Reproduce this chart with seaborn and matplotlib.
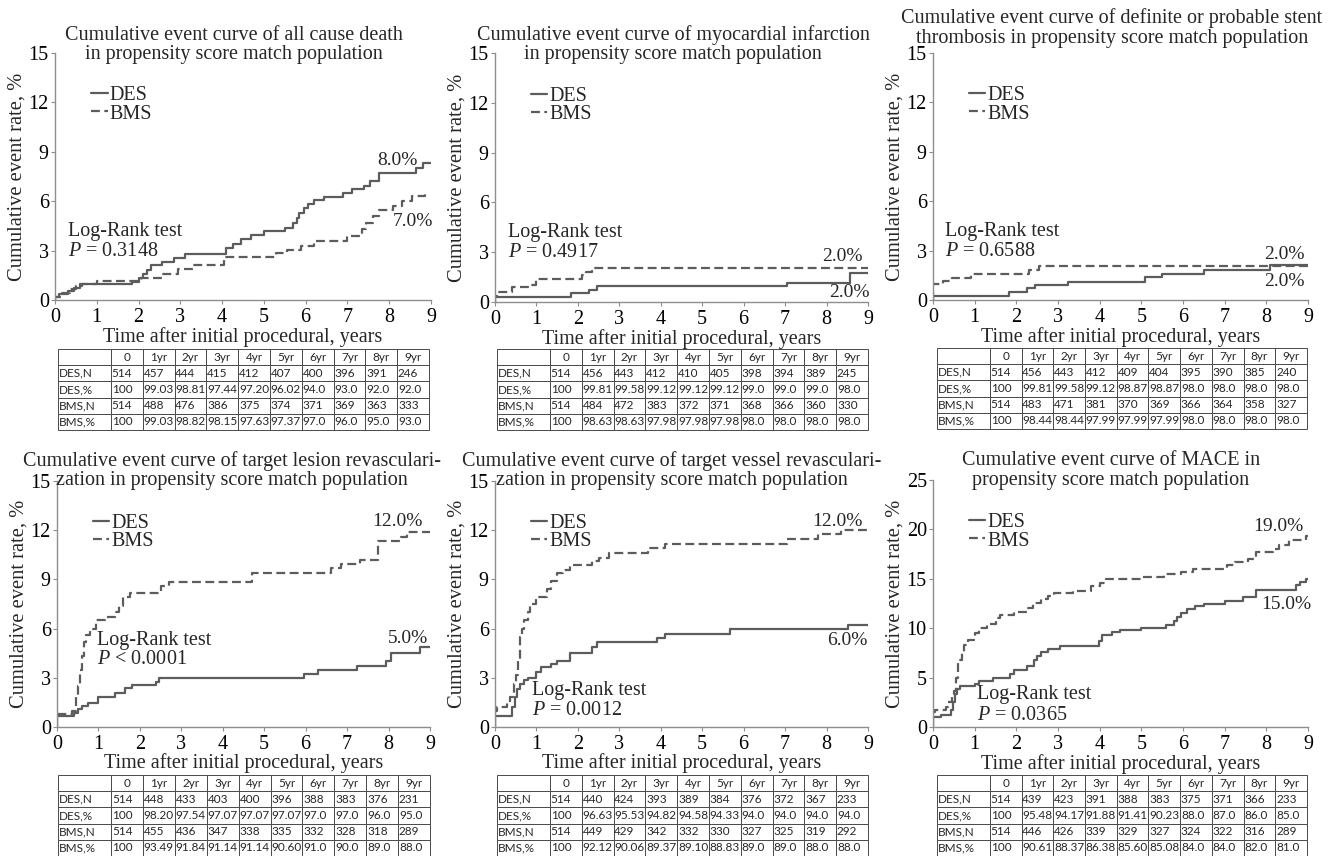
import numpy as np
import pandas as pd
import matplotlib
matplotlib.use('Agg')
import matplotlib.pyplot as plt
import seaborn as sns

# ---------- data: step curves (years, cumulative %) ----------
death_des_t = [0, 0, 0.1, 0.3, 0.45, 0.6, 1.85, 2.0, 2.1, 2.2, 2.3, 2.55, 2.85, 3.1, 4.1, 4.25, 4.45,
               4.7, 5.0, 5.5, 5.7, 5.8, 5.85, 5.95, 6.05, 6.2, 6.45, 6.9, 7.1, 7.4, 7.55, 7.75, 8.65, 8.8, 9.0]
death_des_y = [0, 0.2, 0.35, 0.55, 0.75, 0.95, 1.1, 1.35, 1.6, 1.85, 2.1, 2.3, 2.55, 2.8, 3.15, 3.4, 3.7,
               3.95, 4.2, 4.4, 4.7, 5.0, 5.3, 5.6, 5.85, 6.05, 6.25, 6.5, 6.75, 6.95, 7.2, 7.7, 8.0, 8.3, 8.3]
death_bms_t = [0, 0, 0.15, 0.35, 0.5, 0.65, 1.0, 2.05, 2.55, 2.95, 3.3, 4.05, 5.3, 5.55, 5.9, 6.2, 7.0,
               7.35, 7.45, 7.6, 7.75, 8.1, 8.3, 8.55, 8.85, 8.9]
death_bms_y = [0, 0.2, 0.45, 0.65, 0.85, 0.95, 1.15, 1.35, 1.6, 1.9, 2.1, 2.6, 2.85, 3.05, 3.25, 3.6, 3.9,
               4.3, 4.7, 5.1, 5.45, 5.7, 6.0, 6.3, 6.5, 6.5]

mi_des_t = [0, 0, 1.83, 2.27, 2.45, 7.05, 8.57, 9.0]
mi_des_y = [0, 0.3, 0.55, 0.75, 0.95, 1.15, 1.75, 1.75]
mi_bms_t = [0, 0, 0.05, 0.4, 0.85, 1.0, 2.1, 2.2, 2.35, 9.0]
mi_bms_y = [0, 0.35, 0.6, 0.9, 1.05, 1.4, 1.6, 1.8, 2.05, 2.05]

st_des_t = [0, 0, 1.82, 2.25, 2.45, 3.25, 5.1, 5.5, 6.5, 8.1, 9.0]
st_des_y = [0, 0.25, 0.5, 0.7, 0.9, 1.1, 1.4, 1.6, 1.85, 2.1, 2.1]
st_bms_t = [0, 0, 0.25, 0.45, 0.9, 2.3, 2.55, 9.0]
st_bms_y = [0, 0.95, 1.15, 1.35, 1.55, 1.8, 2.05, 2.05]

tlr_des_t = [0, 0, 0.4, 0.5, 0.6, 0.75, 1.0, 1.4, 1.63, 1.8, 2.4, 2.47, 5.95, 6.3, 7.25, 7.95, 8.07, 8.77, 9.0]
tlr_des_y = [0, 0.65, 0.85, 1.1, 1.3, 1.45, 1.85, 2.1, 2.35, 2.55, 2.75, 3.0, 3.25, 3.45, 3.75, 4.0, 4.5, 4.85, 4.85]
tlr_bms_t = [0, 0, 0.35, 0.45, 0.5, 0.55, 0.6, 0.65, 0.7, 0.8, 0.95, 1.15, 1.4, 1.5, 1.6, 1.75, 2.5, 2.7,
             4.7, 6.6, 6.85, 7.3, 7.75, 8.3, 8.45, 9.0]
tlr_bms_y = [0, 0.8, 1.0, 1.8, 2.5, 3.5, 4.3, 5.2, 5.6, 6.0, 6.5, 6.7, 7.0, 7.4, 7.9, 8.2, 8.6, 8.85,
             9.4, 9.7, 9.95, 10.2, 11.35, 11.6, 11.9, 11.9]

tvr_des_t = [0, 0, 0.42, 0.48, 0.53, 0.6, 0.7, 0.8, 1.0, 1.1, 1.35, 1.5, 1.8, 2.35, 2.45, 3.92, 4.1, 5.67, 8.52, 9.0]
tvr_des_y = [0, 0.65, 1.2, 1.8, 2.3, 2.6, 2.85, 3.0, 3.35, 3.65, 3.85, 4.05, 4.5, 4.85, 5.2, 5.45, 5.7, 5.95, 6.25, 6.25]
tvr_bms_t = [0, 0, 0.05, 0.3, 0.35, 0.45, 0.5, 0.55, 0.6, 0.65, 0.7, 0.8, 0.85, 1.0, 1.25, 1.35, 1.5, 1.65,
             1.8, 2.35, 2.5, 2.75, 3.7, 4.1, 7.05, 7.8, 8.35, 9.0]
tvr_bms_y = [0, 0.95, 1.2, 1.5, 1.85, 2.6, 3.2, 4.0, 5.5, 6.0, 6.5, 7.0, 7.5, 7.9, 8.4, 8.9, 9.4, 9.6,
             9.9, 10.1, 10.3, 10.6, 10.9, 11.15, 11.45, 11.75, 12.0, 12.0]

mace_des_t = [0, 0, 0.2, 0.42, 0.47, 0.52, 0.57, 0.65, 1.0, 1.1, 1.45, 1.85, 1.95, 2.25, 2.42, 2.5, 2.6, 2.75,
              3.05, 3.98, 4.05, 4.3, 4.5, 5.0, 5.6, 5.78, 5.85, 5.95, 6.1, 6.3, 6.5, 7.0, 7.45, 7.75, 8.72,
              8.82, 8.95, 9.0]
mace_des_y = [0, 1.0, 1.2, 1.7, 2.5, 3.3, 3.8, 4.1, 4.4, 4.7, 5.0, 5.4, 5.8, 6.2, 6.8, 7.2, 7.6, 7.9,
              8.2, 8.7, 9.3, 9.6, 9.8, 10.0, 10.3, 10.7, 11.1, 11.5, 11.9, 12.2, 12.5, 12.8, 13.2, 13.9, 14.4,
              14.7, 15.0, 15.0]
mace_bms_t = [0, 0, 0.05, 0.3, 0.35, 0.45, 0.5, 0.55, 0.6, 0.7, 0.75, 0.85, 1.0, 1.1, 1.3, 1.5, 1.6, 1.95,
              2.25, 2.4, 2.6, 2.75, 2.9, 3.35, 3.8, 4.0, 4.15, 5.05, 5.55, 5.95, 6.25, 7.05, 7.25, 7.55,
              7.75, 8.15, 8.3, 8.55, 8.95, 9.0]
mace_bms_y = [0, 1.5, 1.7, 2.0, 2.5, 3.3, 3.6, 5.0, 6.8, 7.5, 8.3, 8.8, 9.5, 10.0, 10.4, 11.0, 11.3, 11.6,
              12.0, 12.6, 13.0, 13.3, 13.6, 13.8, 14.3, 14.6, 15.0, 15.2, 15.5, 15.7, 16.0, 16.4, 16.7, 17.0,
              17.7, 18.0, 18.4, 18.9, 19.3, 19.3]

# ---------- numbers at risk tables ----------
year_cols = ['', '0', '1yr', '2yr', '3yr', '4yr', '5yr', '6yr', '7yr', '8yr', '9yr']
row_labels = ['DES,N', 'DES,%', 'BMS,N', 'BMS,%']

death_rows = [['514', '457', '444', '415', '412', '407', '400', '396', '391', '246'],
              ['100', '99.03', '98.81', '97.44', '97.20', '96.02', '94.0', '93.0', '92.0', '92.0'],
              ['514', '488', '476', '386', '375', '374', '371', '369', '363', '333'],
              ['100', '99.03', '98.82', '98.15', '97.63', '97.37', '97.0', '96.0', '95.0', '93.0']]
mi_rows = [['514', '456', '443', '412', '410', '405', '398', '394', '389', '245'],
           ['100', '99.81', '99.58', '99.12', '99.12', '99.12', '99.0', '99.0', '99.0', '98.0'],
           ['514', '484', '472', '383', '372', '371', '368', '366', '360', '330'],
           ['100', '98.63', '98.63', '97.98', '97.98', '97.98', '98.0', '98.0', '98.0', '98.0']]
st_rows = [['514', '456', '443', '412', '409', '404', '395', '390', '385', '240'],
           ['100', '99.81', '99.58', '99.12', '98.87', '98.87', '98.0', '98.0', '98.0', '98.0'],
           ['514', '483', '471', '381', '370', '369', '366', '364', '358', '327'],
           ['100', '98.44', '98.44', '97.99', '97.99', '97.99', '98.0', '98.0', '98.0', '98.0']]
tlr_rows = [['514', '448', '433', '403', '400', '396', '388', '383', '376', '231'],
            ['100', '98.20', '97.54', '97.07', '97.07', '97.07', '97.0', '97.0', '96.0', '95.0'],
            ['514', '455', '436', '347', '338', '335', '332', '328', '318', '289'],
            ['100', '93.49', '91.84', '91.14', '91.14', '90.60', '91.0', '90.0', '89.0', '88.0']]
tvr_rows = [['514', '440', '424', '393', '389', '384', '376', '372', '367', '233'],
            ['100', '96.63', '95.53', '94.82', '94.58', '94.33', '94.0', '94.0', '94.0', '94.0'],
            ['514', '449', '429', '342', '332', '330', '327', '325', '319', '292'],
            ['100', '92.12', '90.06', '89.37', '89.10', '88.83', '89.0', '89.0', '88.0', '88.0']]
mace_rows = [['514', '439', '423', '391', '388', '383', '375', '371', '366', '233'],
             ['100', '95.48', '94.17', '91.88', '91.41', '90.23', '88.0', '87.0', '86.0', '85.0'],
             ['514', '446', '426', '339', '329', '327', '324', '322', '316', '289'],
             ['100', '90.61', '88.37', '86.38', '85.60', '85.08', '84.0', '84.0', '82.0', '81.0']]

# ---------- style ----------
sns.set_theme(style='ticks')
plt.rcParams['font.family'] = ['Liberation Serif', 'DejaVu Serif']
plt.rcParams['mathtext.fontset'] = 'custom'
plt.rcParams['mathtext.rm'] = 'Liberation Serif'
plt.rcParams['mathtext.it'] = 'Liberation Serif:italic'

W, H = 1337, 856
line_col = '#5c5c5c'
axis_col = '#8e8e8e'
fs = 14.5

fig = plt.figure(figsize=(W / 100, H / 100), dpi=100)
fig.patch.set_facecolor('white')


def px_axes(left, top, right, bottom):
    return fig.add_axes([left / W, 1 - bottom / H, (right - left) / W, (bottom - top) / H])


def draw_curves(ax, des_t, des_y, bms_t, bms_y, ymax, ystep):
    sns.lineplot(x=des_t, y=des_y, ax=ax, estimator=None, sort=False, drawstyle='steps-post',
                 color=line_col, linewidth=1.6, label='DES')
    sns.lineplot(x=bms_t, y=bms_y, ax=ax, estimator=None, sort=False, drawstyle='steps-post',
                 color=line_col, linewidth=1.6, linestyle=(0, (4, 2)), label='BMS')
    ax.set_xlim(0, 9)
    ax.set_ylim(0, ymax)
    ax.set_xticks(range(10))
    ax.set_yticks(np.arange(0, ymax + 1, ystep))
    ax.tick_params(length=3, width=0.8, color=axis_col, labelsize=fs, pad=1.5, labelcolor='black')
    ax.tick_params(axis='x', pad=2.5)
    sns.despine(ax=ax)
    for s in ['left', 'bottom']:
        ax.spines[s].set_color(axis_col)
        ax.spines[s].set_linewidth(1.0)
    ax.set_xlabel('Time after initial procedural, years', fontsize=fs)
    ax.set_ylabel('Cumulative event rate, %', fontsize=fs + 0.3)
    ax.xaxis.set_label_coords(0.5, -0.108)
    ax.yaxis.set_label_coords(-0.075, 0.5)
    ax.legend(loc='upper left', bbox_to_anchor=(0.097, 0.865), frameon=False, fontsize=fs,
              handlelength=0.8, handletextpad=0.1, labelspacing=-0.05, borderpad=0, borderaxespad=0)


def draw_table(box, rows):
    tax = px_axes(*box)
    tax.axis('off')
    cells = [[lab] + vals for lab, vals in zip(row_labels, rows)]
    widths = [53] + [31.8] * 10
    widths = [w / sum(widths) for w in widths]
    tbl = tax.table(cellText=cells, colLabels=year_cols, colWidths=widths, bbox=[0, 0, 1, 1],
                    cellLoc='left', colLoc='center')
    tbl.auto_set_font_size(False)
    tbl.set_fontsize(8.5)
    for (r, c), cell in tbl.get_celld().items():
        cell.set_edgecolor('#4a4a4a')
        cell.set_linewidth(0.7)
        cell.PAD = 0.025
        cell.get_text().set_fontfamily('Lato')


panels = [
    dict(title=['Cumulative event curve of all cause death', 'in propensity score match population'],
         cx=234, ty=(35, 54), box=(55, 53, 431, 300), table=(58, 349, 429, 430),
         curves=(death_des_t, death_des_y, death_bms_t, death_bms_y), ymax=15, ystep=3,
         pct=[('8.0%', 8.67, 8.5), ('7.0%', 9.05, 4.75)], lr=(0.31, 4.15, 2.95), p='$P$ = 0.3148',
         rows=death_rows),
    dict(title=['Cumulative event curve of myocardial infarction', 'in propensity score match population'],
         cx=673, ty=(35, 54), box=(495, 53, 868, 302), table=(497, 349, 868, 430),
         curves=(mi_des_t, mi_des_y, mi_bms_t, mi_bms_y), ymax=15, ystep=3,
         pct=[('2.0%', 8.88, 2.72), ('2.0%', 9.05, 0.55)], lr=(0.31, 4.2, 3.0), p='$P$ = 0.4917',
         rows=mi_rows),
    dict(title=['Cumulative event curve of definite or probable stent',
                'thrombosis in propensity score match population'],
         cx=1112, ty=(18, 38), box=(933, 53, 1308, 300), table=(937, 348, 1307, 429),
         curves=(st_des_t, st_des_y, st_bms_t, st_bms_y), ymax=15, ystep=3,
         pct=[('2.0%', 8.93, 2.75), ('2.0%', 8.93, 1.1)], lr=(0.29, 4.15, 2.95), p='$P$ = 0.6588',
         rows=st_rows),
    dict(title=['Cumulative event curve of target lesion revasculari-',
                'zation in propensity score match population'],
         cx=232, ty=(461, 481), box=(57, 481, 430, 727), table=(58, 775, 430, 856),
         curves=(tlr_des_t, tlr_des_y, tlr_bms_t, tlr_bms_y), ymax=15, ystep=3,
         pct=[('12.0%', 8.83, 12.55), ('5.0%', 8.95, 5.37)], lr=(0.97, 5.3, 4.1), p='$P$ < 0.0001',
         rows=tlr_rows),
    dict(title=['Cumulative event curve of target vessel revasculari-',
                'zation in propensity score match population'],
         cx=672, ty=(461, 481), box=(495, 481, 868, 727), table=(497, 775, 868, 856),
         curves=(tvr_des_t, tvr_des_y, tvr_bms_t, tvr_bms_y), ymax=15, ystep=3,
         pct=[('12.0%', 8.88, 12.55), ('6.0%', 9.0, 5.25)], lr=(0.89, 2.2, 0.98), p='$P$ = 0.0012',
         rows=tvr_rows),
    dict(title=['Cumulative event curve of MACE in', 'propensity score match population'],
         cx=1111, ty=(461, 481), box=(933, 480, 1308, 727), table=(937, 775, 1307, 856),
         curves=(mace_des_t, mace_des_y, mace_bms_t, mace_bms_y), ymax=25, ystep=5,
         pct=[('19.0%', 8.88, 20.3), ('15.0%', 9.07, 12.35)], lr=(1.06, 3.25, 1.2), p='$P$ = 0.0365',
         rows=mace_rows),
]

for pn in panels:
    ax = px_axes(*pn['box'])
    draw_curves(ax, *pn['curves'], pn['ymax'], pn['ystep'])
    for line, ty in zip(pn['title'], pn['ty']):
        fig.text(pn['cx'] / W, 1 - ty / H, line, ha='center', va='center', fontsize=fs)
    for txt, x, y in pn['pct']:
        ax.text(x, y, txt, ha='right', va='center', fontsize=14)
    lx, ly1, ly2 = pn['lr']
    ax.text(lx, ly1, 'Log-Rank test', ha='left', va='center', fontsize=fs)
    ax.text(lx, ly2, pn['p'], ha='left', va='center', fontsize=fs)
    draw_table(pn['table'], pn['rows'])

fig.savefig('out.png', dpi=100, facecolor='white')
